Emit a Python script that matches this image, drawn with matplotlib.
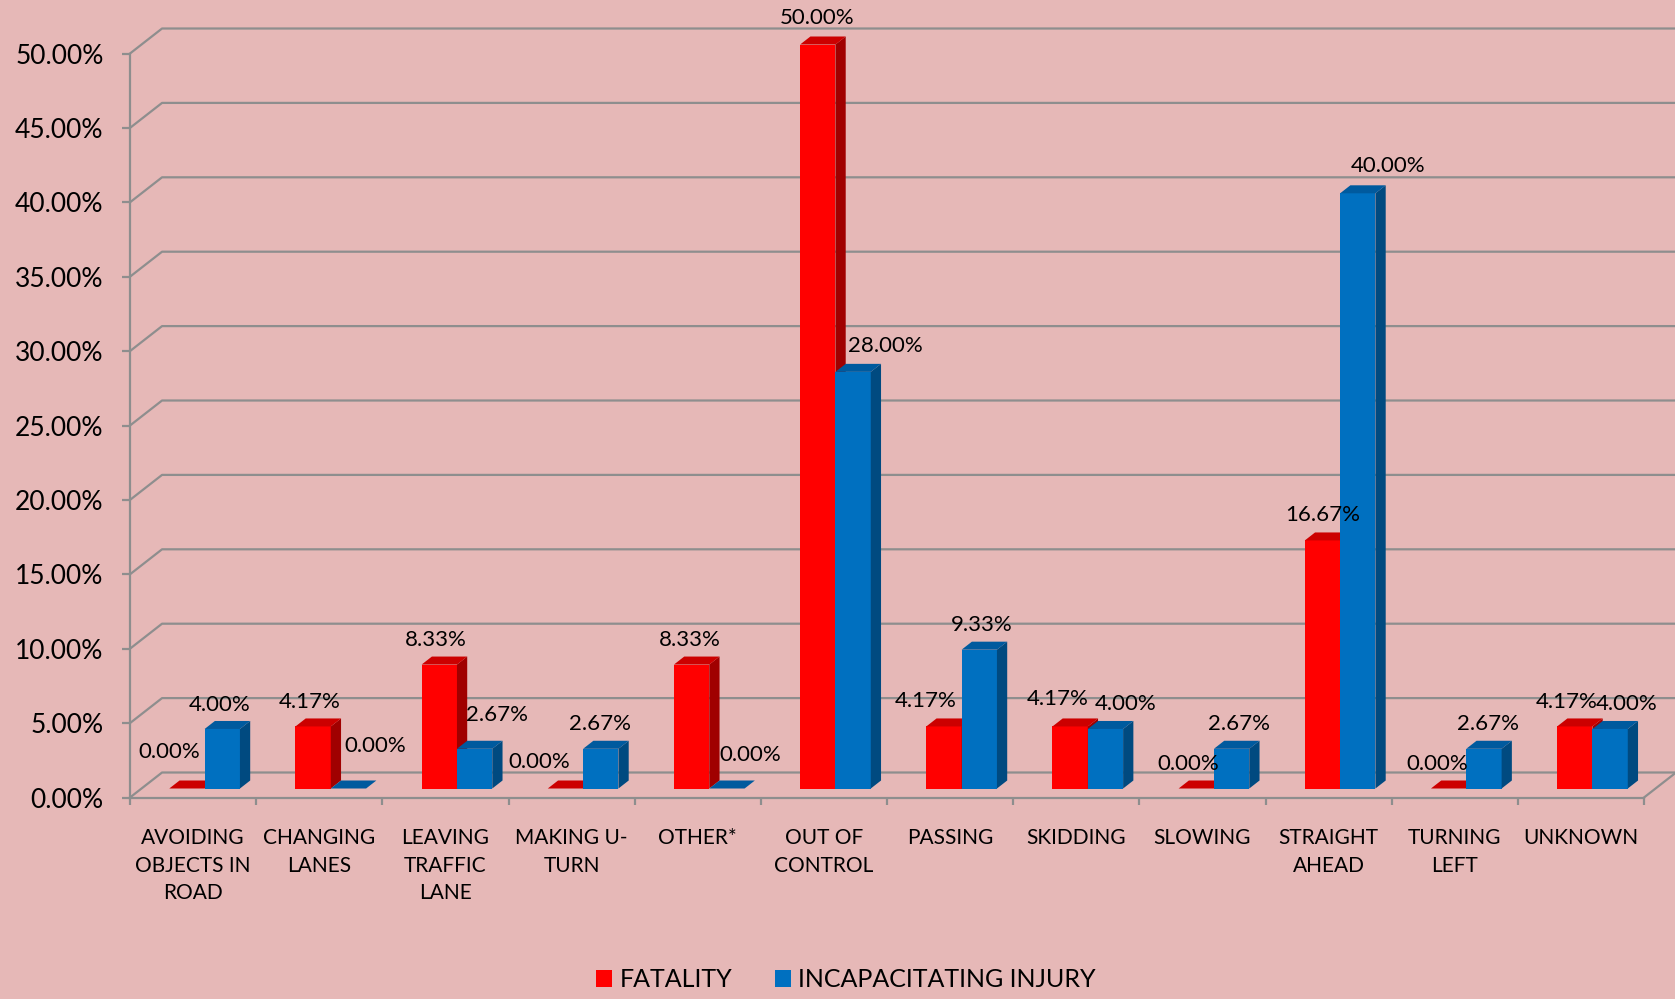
import matplotlib.pyplot as plt
import numpy as np
from matplotlib.patches import Polygon, Patch

plt.rcParams['font.family'] = ['Lato', 'DejaVu Sans']

categories = ['AVOIDING\nOBJECTS IN\nROAD', 'CHANGING\nLANES', 'LEAVING\nTRAFFIC\nLANE',
              'MAKING U-\nTURN', 'OTHER*', 'OUT OF\nCONTROL', 'PASSING', 'SKIDDING',
              'SLOWING', 'STRAIGHT\nAHEAD', 'TURNING\nLEFT', 'UNKNOWN']
fatality = [0.00, 4.17, 8.33, 0.00, 8.33, 50.00, 4.17, 4.17, 0.00, 16.67, 0.00, 4.17]
injury = [4.00, 0.00, 2.67, 2.67, 0.00, 28.00, 9.33, 4.00, 2.67, 40.00, 2.67, 4.00]
series_names = ['FATALITY', 'INCAPACITATING INJURY']
y_ticks = np.arange(0, 51, 5)

# label nudges in pixels (right, up) so neighbouring labels don't collide
fat_shift = [(-18, 12), (-3, -1), (-3, 0), (-26, 2), (-2, 0), (-1, 2),
             (-18, 0), (-12, 2), (-8, 0), (0, 0), (-11, 0), (-8, -1)]
inj_shift = [(-3, -1), (27, 18), (22, 9), (-1, 0), (23, 9), (32, 1),
             (2, 0), (20, 0), (7, 0), (30, 2), (4, 0), (17, 0)]

BG = '#E6B8B7'
GRID = '#8E8E8E'
faces = {
    0: ('#FF0000', '#CC0000', '#A00000'),   # front, top, side
    1: ('#0070C0', '#005A9E', '#004A80'),
}

# fake 3-D depth of the floor, in data units
DX, DY = 0.254, 1.68
Z0, Z1 = 0.36, 0.68   # bar front / back depth fraction
BW = 0.28

fig = plt.figure(figsize=(16.75, 9.99), dpi=100, facecolor=BG)
ax = fig.add_axes([130 / 1675, (999 - 797.5) / 999, 1514 / 1675, 53.5 * 14.88 / 999])
ax.set_facecolor('none')
ax.set_xlim(0, 12)
ax.set_ylim(0, 53.5)

for s in ['top', 'right']:
    ax.spines[s].set_visible(False)
for s in ['left', 'bottom']:
    ax.spines[s].set_color(GRID)
    ax.spines[s].set_linewidth(1.6)
ax.spines['left'].set_bounds(0, 50)

ax.set_yticks(y_ticks)
ax.set_yticklabels([f'{v:.2f}%' for v in y_ticks])
ax.tick_params(axis='y', length=6, width=1.6, color=GRID, labelsize=19, pad=13)

ax.set_xticks(np.arange(0, 13))
ax.set_xticklabels([])
ax.tick_params(axis='x', which='major', length=5, width=1.6, color=GRID)
ax.set_xticks(np.arange(12) + 0.5, minor=True)
ax.set_xticklabels(categories, minor=True, fontsize=15, linespacing=1.48)
ax.tick_params(axis='x', which='minor', length=0, pad=22)

# side wall + back wall gridlines
for v in y_ticks:
    ax.plot([0, DX, 12 + DX], [v, v + DY, v + DY], color=GRID, lw=1.6,
            clip_on=False, zorder=0)
ax.plot([12, 12 + DX], [0, DY], color=GRID, lw=1.6, clip_on=False, zorder=0)

bdx, bdy = (Z1 - Z0) * DX, (Z1 - Z0) * DY
base = Z0 * DY
z = 2
for i in range(len(categories)):
    pc = i + 0.5 + Z0 * DX
    for s, (vals, shifts) in enumerate([(fatality, fat_shift), (injury, inj_shift)]):
        v = vals[i]
        x0 = pc - BW + s * BW
        front, top, side = faces[s]
        ax.bar(x0, v, width=BW, bottom=base, align='edge', color=front,
               edgecolor='none', zorder=z)
        ax.add_patch(Polygon([(x0 + BW, base), (x0 + BW, base + v),
                              (x0 + BW + bdx, base + v + bdy), (x0 + BW + bdx, base + bdy)],
                             closed=True, facecolor=side, edgecolor='none', zorder=z))
        ax.add_patch(Polygon([(x0, base + v), (x0 + BW, base + v),
                              (x0 + BW + bdx, base + v + bdy), (x0 + bdx, base + v + bdy)],
                             closed=True, facecolor=top, edgecolor='none', zorder=z))
        z += 1
        sx, sy = shifts[i]
        ax.annotate(f'{v:.2f}%', xy=(x0 + BW / 2, base + v),
                    xytext=(sx, 25 + sy), textcoords='offset pixels',
                    ha='center', va='center', fontsize=16, zorder=50,
                    annotation_clip=False)

handles = [Patch(facecolor=faces[0][0]), Patch(facecolor=faces[1][0])]
fig.legend(handles, series_names, loc='lower center', bbox_to_anchor=(0.505, -0.015),
           ncol=2, frameon=False, fontsize=18, handlelength=0.64, handleheight=0.64,
           handletextpad=0.3, columnspacing=1.7)

fig.savefig('out.png', dpi=100, facecolor=BG)
